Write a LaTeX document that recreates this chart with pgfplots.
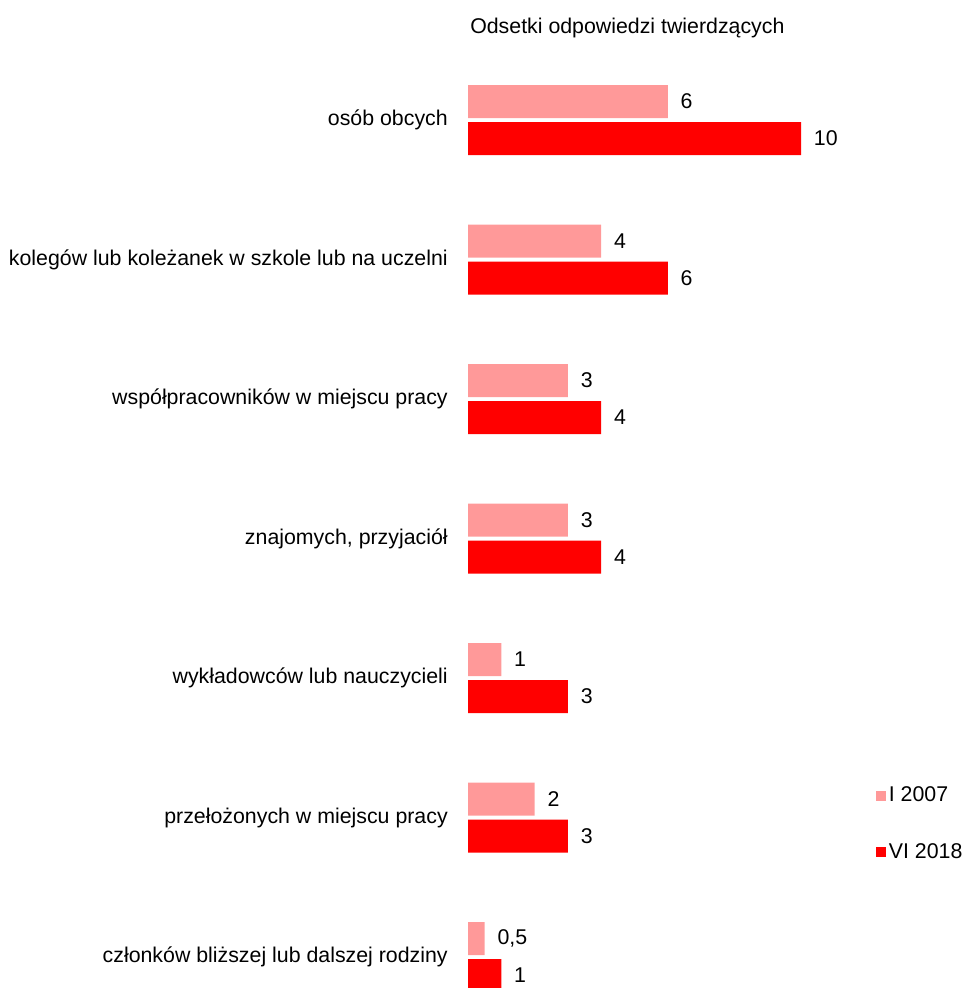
\documentclass[border=0pt]{standalone}
\usepackage{fontspec}
\setmainfont{Liberation Sans}
\usepackage{pgfplots}
\pgfplotsset{compat=1.18}
\definecolor{jasny}{HTML}{FF9999}
\definecolor{ciemny}{HTML}{FF0000}
\begin{document}
\fontsize{16pt}{19pt}\selectfont
\begin{tikzpicture}
\path[use as bounding box, clip] (0pt,0pt) rectangle (724.5pt,-741pt);
\node[anchor=west, inner sep=0pt] at (352.5pt,-21pt) {Odsetki odpowiedzi twierdzących};
\begin{axis}[
    at={(351pt,-37.69pt)}, anchor=north west,
    scale only axis, width=249.75pt, height=732.375pt,
    xmin=0, xmax=10, ymin=-0.5, ymax=6.5,
    xbar, bar width=24.75pt,
    clip=false,
    axis x line=none,
    axis y line=left,
    y axis line style={draw=none},
    ytick={0,...,6}, ytick style={draw=none}, major tick length=0pt,
    yticklabels={członków bliższej lub dalszej rodziny, przełożonych w miejscu pracy, wykładowców lub nauczycieli, {znajomych, przyjaciół}, współpracowników w miejscu pracy, kolegów lub koleżanek w szkole lub na uczelni, osób obcych\hspace{0.3em}},
    yticklabel style={anchor=east, inner sep=0pt, xshift=-15pt},
    /pgf/number format/assume math mode=true,
    /pgf/number format/use comma,
    nodes near coords,
    every node near coord/.append style={anchor=west, inner sep=0pt, xshift=9.5pt},
    legend image code/.code={\fill[#1] (0pt,-3.75pt) rectangle (7.5pt,3.75pt);},
    legend style={at={(1.225,0.249)}, anchor=north west, draw=none, fill=none,
        inner sep=0pt, row sep=25pt, cells={anchor=west},
        nodes={inner sep=2pt}},
]
\addplot[fill=jasny, draw=none, bar shift=13.875pt] coordinates {(6,6) (4,5) (3,4) (3,3) (1,2) (2,1) (0.5,0)};
\addplot[fill=ciemny, draw=none, bar shift=-13.875pt] coordinates {(10,6) (6,5) (4,4) (4,3) (3,2) (3,1) (1,0)};
\legend{I 2007, VI 2018}
\end{axis}
\end{tikzpicture}
\end{document}
